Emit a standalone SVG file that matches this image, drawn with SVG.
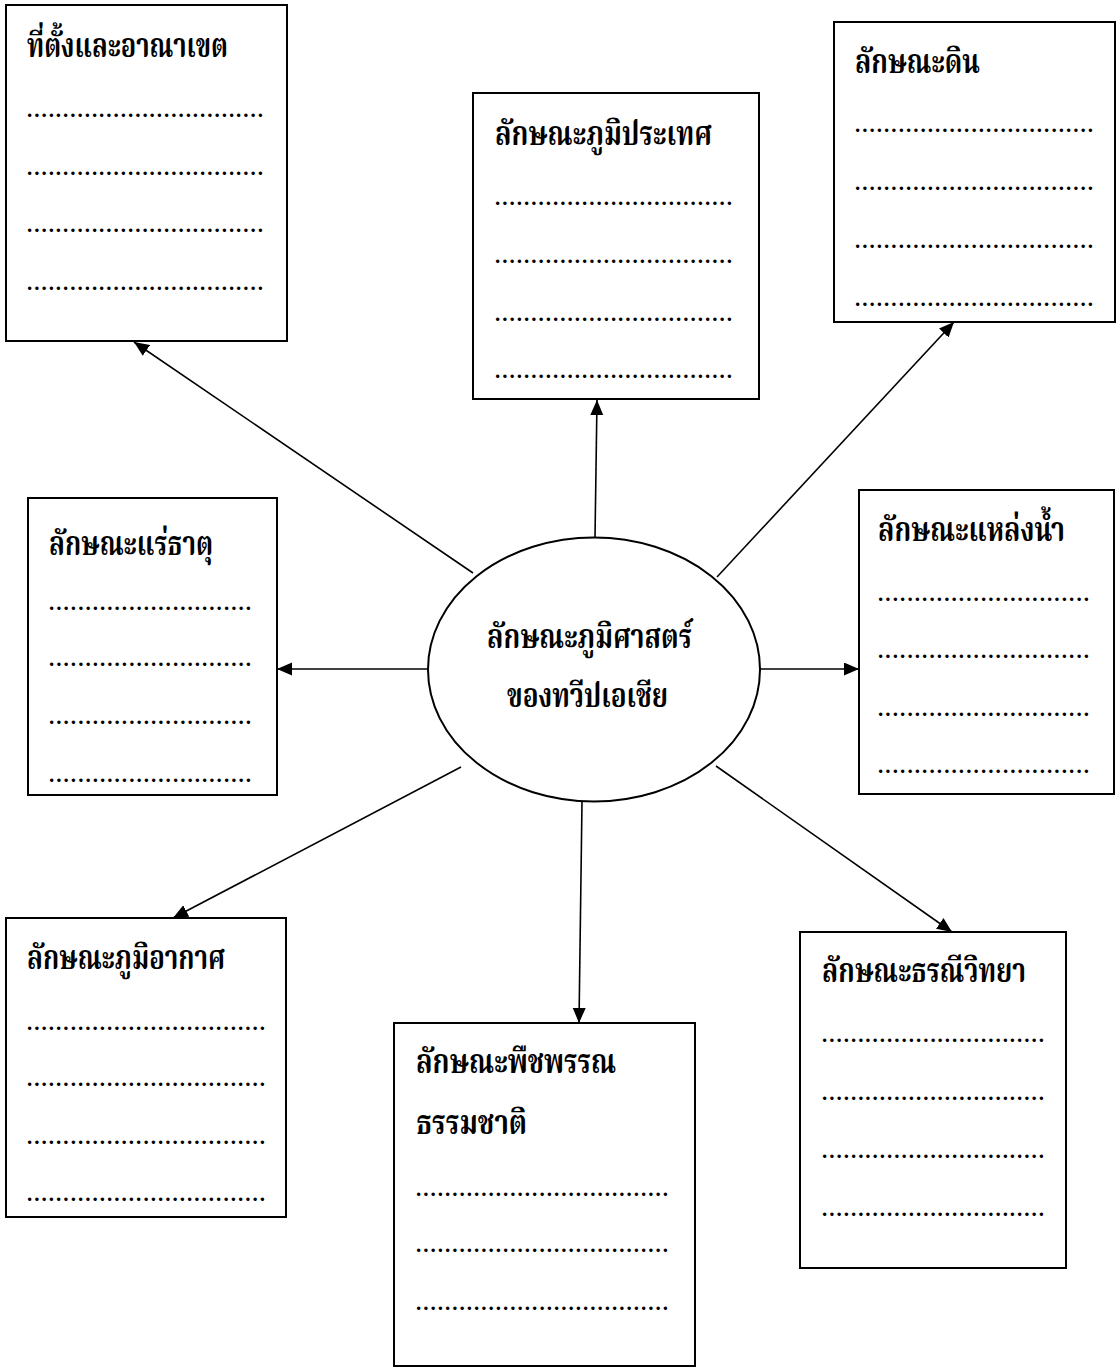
<svg xmlns="http://www.w3.org/2000/svg" width="1117" height="1369" viewBox="0 0 1117 1369">
<style>
.box{fill:#fff;stroke:#000;stroke-width:2}
.ell{fill:#fff;stroke:#000;stroke-width:2}
.t{font-family:"Noto Serif Thai","Noto Sans Thai","Liberation Serif",serif;font-weight:bold;font-size:33px;fill:#000}
.d{font-family:"Liberation Serif",serif;font-weight:bold;font-size:21px;fill:#000}
.c{stroke:#000;stroke-width:1.6;fill:none;marker-end:url(#ah)}
</style>
<defs>
<marker id="ah" markerUnits="userSpaceOnUse" markerWidth="16" markerHeight="14" refX="15" refY="6.5" orient="auto"><path d="M0,0 L15,6.5 L0,13 z" fill="#000"/></marker>
</defs>
<rect width="1117" height="1369" fill="#fff"/>
<g id="connectors">
<path class="c" d="M473,573 L134,342"/>
<path class="c" d="M595,538 L597,400"/>
<path class="c" d="M717,577 L954,322"/>
<path class="c" d="M760,669 L859,669"/>
<path class="c" d="M428,669 L277,669"/>
<path class="c" d="M461,767 L173,918"/>
<path class="c" d="M582,802 L579,1023"/>
<path class="c" d="M716,766 L952,932"/>
</g>
<g id="center">
<ellipse class="ell" cx="594" cy="669.5" rx="166" ry="132"/>
<text class="t" x="487" y="648" textLength="205" lengthAdjust="spacingAndGlyphs">ลักษณะภูมิศาสตร์</text>
<text class="t" x="507" y="707" textLength="161" lengthAdjust="spacingAndGlyphs">ของทวีปเอเชีย</text>
</g>
<g id="n1">
<rect class="box" x="6" y="5" width="281" height="336"/>
<text class="t" x="27" y="57" textLength="201" lengthAdjust="spacingAndGlyphs">ที่ตั้งและอาณาเขต</text>
<text class="d" x="27" y="117" textLength="236" lengthAdjust="spacing">.................................</text>
<text class="d" x="27" y="175" textLength="236" lengthAdjust="spacing">.................................</text>
<text class="d" x="27" y="232" textLength="236" lengthAdjust="spacing">.................................</text>
<text class="d" x="27" y="290" textLength="236" lengthAdjust="spacing">.................................</text>
</g>
<g id="n2">
<rect class="box" x="473" y="93" width="286" height="306"/>
<text class="t" x="495" y="145" textLength="217" lengthAdjust="spacingAndGlyphs">ลักษณะภูมิประเทศ</text>
<text class="d" x="495" y="205" textLength="237" lengthAdjust="spacing">.................................</text>
<text class="d" x="495" y="263" textLength="237" lengthAdjust="spacing">.................................</text>
<text class="d" x="495" y="321" textLength="237" lengthAdjust="spacing">.................................</text>
<text class="d" x="495" y="378" textLength="237" lengthAdjust="spacing">.................................</text>
</g>
<g id="n3">
<rect class="box" x="834" y="22" width="281" height="300"/>
<text class="t" x="855" y="73" textLength="125" lengthAdjust="spacingAndGlyphs">ลักษณะดิน</text>
<text class="d" x="855" y="132" textLength="238" lengthAdjust="spacing">.................................</text>
<text class="d" x="855" y="190" textLength="238" lengthAdjust="spacing">.................................</text>
<text class="d" x="855" y="248" textLength="238" lengthAdjust="spacing">.................................</text>
<text class="d" x="855" y="306" textLength="238" lengthAdjust="spacing">.................................</text>
</g>
<g id="n4">
<rect class="box" x="859" y="490" width="255" height="304"/>
<text class="t" x="878" y="541" textLength="187" lengthAdjust="spacingAndGlyphs">ลักษณะแหล่งน้ำ</text>
<text class="d" x="878" y="601" textLength="211" lengthAdjust="spacing">.............................</text>
<text class="d" x="878" y="658" textLength="211" lengthAdjust="spacing">.............................</text>
<text class="d" x="878" y="716" textLength="211" lengthAdjust="spacing">.............................</text>
<text class="d" x="878" y="773" textLength="211" lengthAdjust="spacing">.............................</text>
</g>
<g id="n5">
<rect class="box" x="28" y="498" width="249" height="297"/>
<text class="t" x="49" y="555" textLength="164" lengthAdjust="spacingAndGlyphs">ลักษณะแร่ธาตุ</text>
<text class="d" x="49" y="610" textLength="202" lengthAdjust="spacing">............................</text>
<text class="d" x="49" y="666" textLength="202" lengthAdjust="spacing">............................</text>
<text class="d" x="49" y="724" textLength="202" lengthAdjust="spacing">............................</text>
<text class="d" x="49" y="782" textLength="202" lengthAdjust="spacing">............................</text>
</g>
<g id="n6">
<rect class="box" x="6" y="918" width="280" height="299"/>
<text class="t" x="27" y="969" textLength="198" lengthAdjust="spacingAndGlyphs">ลักษณะภูมิอากาศ</text>
<text class="d" x="27" y="1030" textLength="238" lengthAdjust="spacing">.................................</text>
<text class="d" x="27" y="1086" textLength="238" lengthAdjust="spacing">.................................</text>
<text class="d" x="27" y="1144" textLength="238" lengthAdjust="spacing">.................................</text>
<text class="d" x="27" y="1201" textLength="238" lengthAdjust="spacing">.................................</text>
</g>
<g id="n7">
<rect class="box" x="394" y="1023" width="301" height="343"/>
<text class="t" x="416" y="1073" textLength="200" lengthAdjust="spacingAndGlyphs">ลักษณะพืชพรรณ</text>
<text class="t" x="416" y="1134" textLength="111" lengthAdjust="spacingAndGlyphs">ธรรมชาติ</text>
<text class="d" x="416" y="1196" textLength="252" lengthAdjust="spacing">...................................</text>
<text class="d" x="416" y="1252" textLength="252" lengthAdjust="spacing">...................................</text>
<text class="d" x="416" y="1310" textLength="252" lengthAdjust="spacing">...................................</text>
</g>
<g id="n8">
<rect class="box" x="800" y="932" width="266" height="336"/>
<text class="t" x="822" y="982" textLength="204" lengthAdjust="spacingAndGlyphs">ลักษณะธรณีวิทยา</text>
<text class="d" x="822" y="1042" textLength="222" lengthAdjust="spacing">...............................</text>
<text class="d" x="822" y="1100" textLength="222" lengthAdjust="spacing">...............................</text>
<text class="d" x="822" y="1158" textLength="222" lengthAdjust="spacing">...............................</text>
<text class="d" x="822" y="1216" textLength="222" lengthAdjust="spacing">...............................</text>
</g>
</svg>
